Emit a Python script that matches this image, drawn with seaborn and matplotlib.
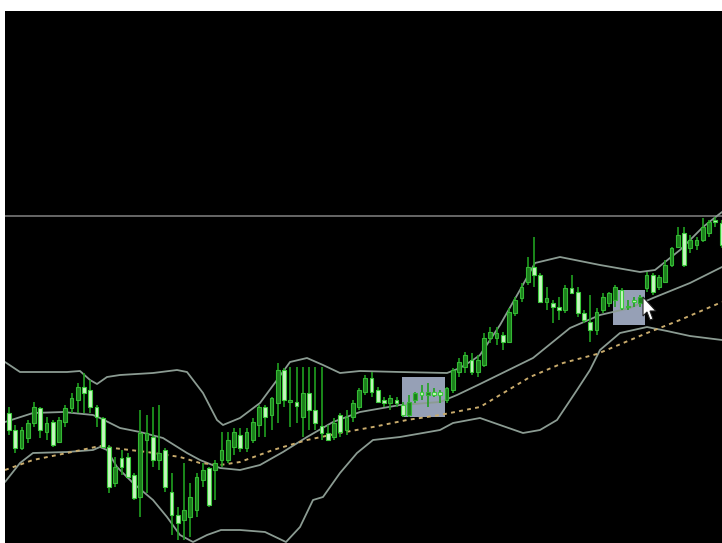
import numpy as np
import pandas as pd
import matplotlib
matplotlib.use("Agg")
import matplotlib.pyplot as plt
import seaborn as sns
from matplotlib.patches import Rectangle, Polygon

# ---------------- data (price in points) ----------------
opens = [130, 113, 95, 105, 120, 135, 111, 121, 101, 121, 135, 143, 156, 153, 136, 125, 96, 60, 85, 86,
         68, 46, 103, 106, 83, 93, 51, 28, 23, 26, 33, 63, 75, 73, 83, 83, 96, 108, 95, 103,
         118, 136, 128, 140, 173, 141, 141, 126, 150, 133, 117, 110, 106, 128, 113, 126, 136, 151, 165, 153,
         143, 140, 143, 138, 128, 143, 151, 148, 151, 151, 143, 153, 171, 176, 183, 171, 178, 205, 205, 208,
         201, 230, 245, 261, 276, 268, 241, 240, 236, 233, 255, 251, 230, 221, 213, 233, 240, 243, 253, 236,
         243, 240, 255, 268, 256, 261, 278, 296, 310, 295, 298, 303, 310, 323, 320]
closes = [113, 95, 113, 120, 136, 113, 120, 98, 123, 135, 145, 156, 150, 136, 126, 96, 56, 76, 76, 66,
          45, 110, 110, 83, 90, 56, 28, 20, 33, 46, 66, 73, 38, 80, 93, 103, 111, 95, 111, 121,
          136, 126, 145, 173, 143, 143, 137, 150, 133, 120, 110, 103, 120, 111, 126, 140, 153, 165, 151, 141,
          140, 145, 140, 128, 141, 150, 148, 151, 148, 148, 155, 173, 181, 188, 171, 183, 205, 211, 210, 201,
          231, 243, 256, 276, 268, 241, 245, 236, 233, 255, 250, 230, 223, 213, 231, 246, 250, 256, 235, 237,
          241, 246, 268, 251, 266, 278, 295, 308, 278, 303, 303, 316, 321, 321, 298]
highs = [136, 118, 116, 123, 141, 136, 126, 123, 126, 138, 150, 160, 170, 163, 138, 126, 98, 86, 93, 90,
         70, 133, 128, 136, 138, 95, 70, 36, 80, 60, 70, 80, 76, 83, 111, 111, 115, 115, 115, 125,
         138, 138, 146, 180, 175, 176, 176, 176, 176, 176, 176, 118, 125, 130, 133, 143, 155, 168, 171, 156,
         146, 148, 146, 141, 148, 151, 158, 160, 155, 153, 156, 175, 185, 191, 190, 188, 210, 216, 216, 211,
         235, 246, 260, 286, 306, 270, 256, 243, 246, 258, 268, 256, 233, 248, 235, 250, 251, 258, 255, 243,
         246, 248, 271, 270, 268, 283, 296, 316, 316, 308, 306, 325, 323, 326, 323]
lows = [108, 90, 93, 100, 116, 105, 103, 96, 100, 116, 130, 130, 130, 130, 116, 95, 50, 56, 68, 65,
        43, 26, 50, 76, 73, 51, 8, 3, 3, 6, 26, 56, 36, 43, 76, 80, 88, 91, 91, 100,
        106, 106, 113, 120, 136, 116, 120, 106, 113, 113, 103, 103, 103, 106, 108, 121, 133, 148, 146, 140,
        136, 133, 136, 126, 126, 140, 143, 136, 146, 140, 140, 150, 166, 170, 168, 166, 176, 200, 198, 193,
        200, 227, 241, 258, 256, 240, 233, 220, 223, 230, 250, 226, 220, 201, 208, 230, 236, 236, 233, 233,
        236, 236, 251, 248, 253, 260, 276, 295, 276, 290, 293, 301, 306, 316, 295]

# Bollinger bands and moving average, sampled at bar positions
upper_x = [-0.64, 1.76, 9.28, 11.36, 12.96, 14.08, 15.68, 17.76, 23.04, 26.88, 28.48, 31.04, 33.28, 34.24,
           36.96, 40.16, 42.88, 44.96, 47.68, 50.24, 52.96, 56.16, 62.56, 70.08, 72.16, 74.24, 75.36, 78.56,
           81.76, 84.16, 88.16, 94.56, 100.96, 103.36, 107.36, 111.04, 114.08]
upper_y = [181, 171, 171, 172, 163, 159, 166, 168, 170, 173, 171, 150, 123, 118,
           125, 140, 163, 181, 185, 178, 170, 172, 171, 170, 175, 183, 188, 218,
           253, 280, 286, 278, 271, 273, 293, 316, 331]
middle_x = [-0.64, 3.84, 8.64, 13.44, 14.56, 17.76, 20.96, 24.64, 28.48, 30.56, 33.76, 36.96, 40.16, 43.84,
            47.68, 51.84, 56.16, 62.56, 68.96, 71.68, 75.36, 83.84, 89.76, 94.56, 99.36, 103.04, 108.96, 114.08]
middle_y = [121, 130, 131, 128, 125, 115, 111, 105, 90, 83, 75, 73, 78, 91,
            106, 121, 131, 138, 141, 148, 159, 185, 215, 228, 235, 245, 260, 276]
lower_x = [-0.64, 1.76, 3.84, 9.28, 13.44, 14.56, 15.68, 17.28, 19.84, 23.04, 25.28, 27.36, 29.44, 31.68,
           33.92, 36.96, 40.96, 44.32, 46.56, 48.64, 50.24, 52.96, 55.68, 58.24, 62.56, 68.96, 71.04, 75.36,
           78.56, 82.24, 84.96, 87.68, 90.88, 92.96, 94.56, 97.76, 102.08, 105.28, 108.96, 114.08]
lower_y = [61, 80, 90, 91, 93, 96, 93, 76, 60, 43, 26, 8, 1, 8,
           13, 13, 11, 1, 16, 43, 46, 70, 90, 103, 106, 113, 120, 125,
           118, 110, 113, 123, 153, 173, 193, 210, 216, 212, 207, 203]
ma_x = [-0.64, 3.84, 9.28, 14.56, 16.64, 22.08, 27.36, 30.56, 33.76, 36.96, 42.24, 47.68, 52.96, 58.24,
        63.68, 68.96, 75.36, 83.36, 88.64, 94.08, 102.08, 107.36, 114.08]
ma_y = [73, 83, 90, 97, 95, 91, 86, 80, 78, 81, 93, 103, 110, 116,
        123, 128, 136, 166, 180, 189, 210, 223, 241]

level_line = 327                       # horizontal level
zones = [(62.88, 69.76, 126, 166),     # highlighted zones: x0, x1, y0, y1
         (96.64, 101.76, 218, 253)]
cursor_at = (101.44, 246)

# ---------------- figure ----------------
sns.set_style("dark", {"axes.facecolor": "black"})
fig = plt.figure(figsize=(7.22, 5.43), dpi=100, facecolor="white")
ax = fig.add_axes([5 / 722, 0, 717 / 722, 532 / 543])
ax.set_facecolor("black")

o = np.array(opens, float)
c = np.array(closes, float)
h = np.array(highs, float)
l = np.array(lows, float)
idx = np.arange(len(o))
bull = c >= o
bottom = np.minimum(o, c)
height = np.maximum(np.abs(c - o), 1.5)

# zones
for x0, x1, y0, y1 in zones:
    ax.add_patch(Rectangle((x0, y0), x1 - x0, y1 - y0, facecolor="#96a0b6",
                           edgecolor="none", zorder=2))

# level
ax.axhline(level_line, color="#6f6f6f", lw=1.3, zorder=1)

# bands
band_col = "#8b9b92"
sns.lineplot(x=upper_x, y=upper_y, ax=ax, color=band_col, lw=1.3, sort=False,
             estimator=None, zorder=3)
sns.lineplot(x=middle_x, y=middle_y, ax=ax, color=band_col, lw=1.3, sort=False,
             estimator=None, zorder=3)
sns.lineplot(x=lower_x, y=lower_y, ax=ax, color=band_col, lw=1.3, sort=False,
             estimator=None, zorder=3)
sns.lineplot(x=ma_x, y=ma_y, ax=ax, color="#c9ab6c", lw=1.4, sort=False,
             estimator=None, zorder=3, linestyle=(0, (2, 2.2)))

# candles
ax.vlines(idx, l, h, color="#20a020", lw=1.2, zorder=4)
ax.bar(idx[bull], height[bull], bottom=bottom[bull], width=0.62,
       color="#1c7f1c", edgecolor="#34b834", linewidth=0.8, zorder=5)
ax.bar(idx[~bull], height[~bull], bottom=bottom[~bull], width=0.62,
       color="#c6f6c0", edgecolor="#3ccc3c", linewidth=0.8, zorder=5)

ax.set_xlim(-0.64, 114.08)
ax.set_ylim(0, 532)
ax.set_xticks([])
ax.set_yticks([])
ax.set_xlabel("")
ax.set_ylabel("")
for s in ax.spines.values():
    s.set_visible(False)

# mouse cursor arrow
fig.canvas.draw()
tx, ty = ax.transData.transform(cursor_at)
shape = np.array([(0, 0), (0, -19), (4, -15), (7, -23), (10, -22), (7, -14), (13, -14)], float)
ax.add_patch(Polygon(shape + [tx, ty], closed=True, transform=None,
                     facecolor="white", edgecolor="#222222", lw=0.8, zorder=10))

fig.savefig("out.png", dpi=100, facecolor="white")
